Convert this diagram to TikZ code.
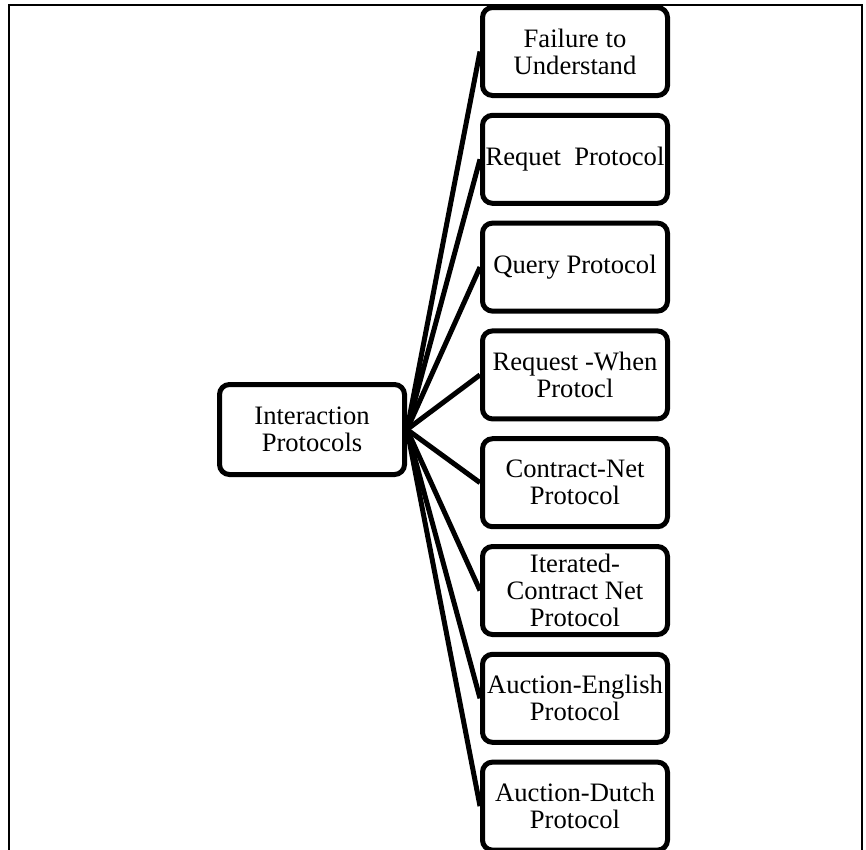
\documentclass[tikz,border=0pt]{standalone}
\usepackage{fontspec}
\setmainfont{Liberation Serif}
\usepackage{tikz}
\usetikzlibrary{positioning}

\begin{document}
\begin{tikzpicture}[x=1pt,y=-1pt,
        protobox/.style={draw,line width=5pt,rounded corners=10pt,
            minimum width=185pt,minimum height=88pt,inner sep=1pt,align=center,
            font=\fontsize{26.6}{27}\selectfont},
        rootbox/.style={protobox,minimum height=90pt},
        branch/.style={line width=5pt}]
        \useasboundingbox (0,0) rectangle (866,849);
        \draw[line width=2pt] (862,860) -- (862,4.5) -- (8.5,4.5) -- (8.5,860);
        \node[rootbox] (IP) at (312,429.5) {Interaction\\Protocols};
        \node[protobox] (FU) at (575,51.5) {Failure to\\Understand};
        \node[protobox] (RP) at (575,159.3) {Requet\ \ Protocol};
        \node[protobox] (QP) at (575,267.1) {Query Protocol};
        \node[protobox] (RW) at (575,374.9) {Request -When\\Protocl};
        \node[protobox] (CN) at (575,482.7) {Contract-Net\\Protocol};
        \node[protobox] (IC) at (575,590.5) {Iterated-\\Contract Net\\Protocol};
        \node[protobox] (AE) at (575,698.3) {Auction-English\\Protocol};
        \node[protobox] (AD) at (575,806.1) {Auction-Dutch\\Protocol};
        \draw[branch] (IP.east) -- (FU.west);
        \draw[branch] (IP.east) -- (RP.west);
        \draw[branch] (IP.east) -- (QP.west);
        \draw[branch] (IP.east) -- (RW.west);
        \draw[branch] (IP.east) -- (CN.west);
        \draw[branch] (IP.east) -- (IC.west);
        \draw[branch] (IP.east) -- (AE.west);
        \draw[branch] (IP.east) -- (AD.west);
\end{tikzpicture}
\end{document}
